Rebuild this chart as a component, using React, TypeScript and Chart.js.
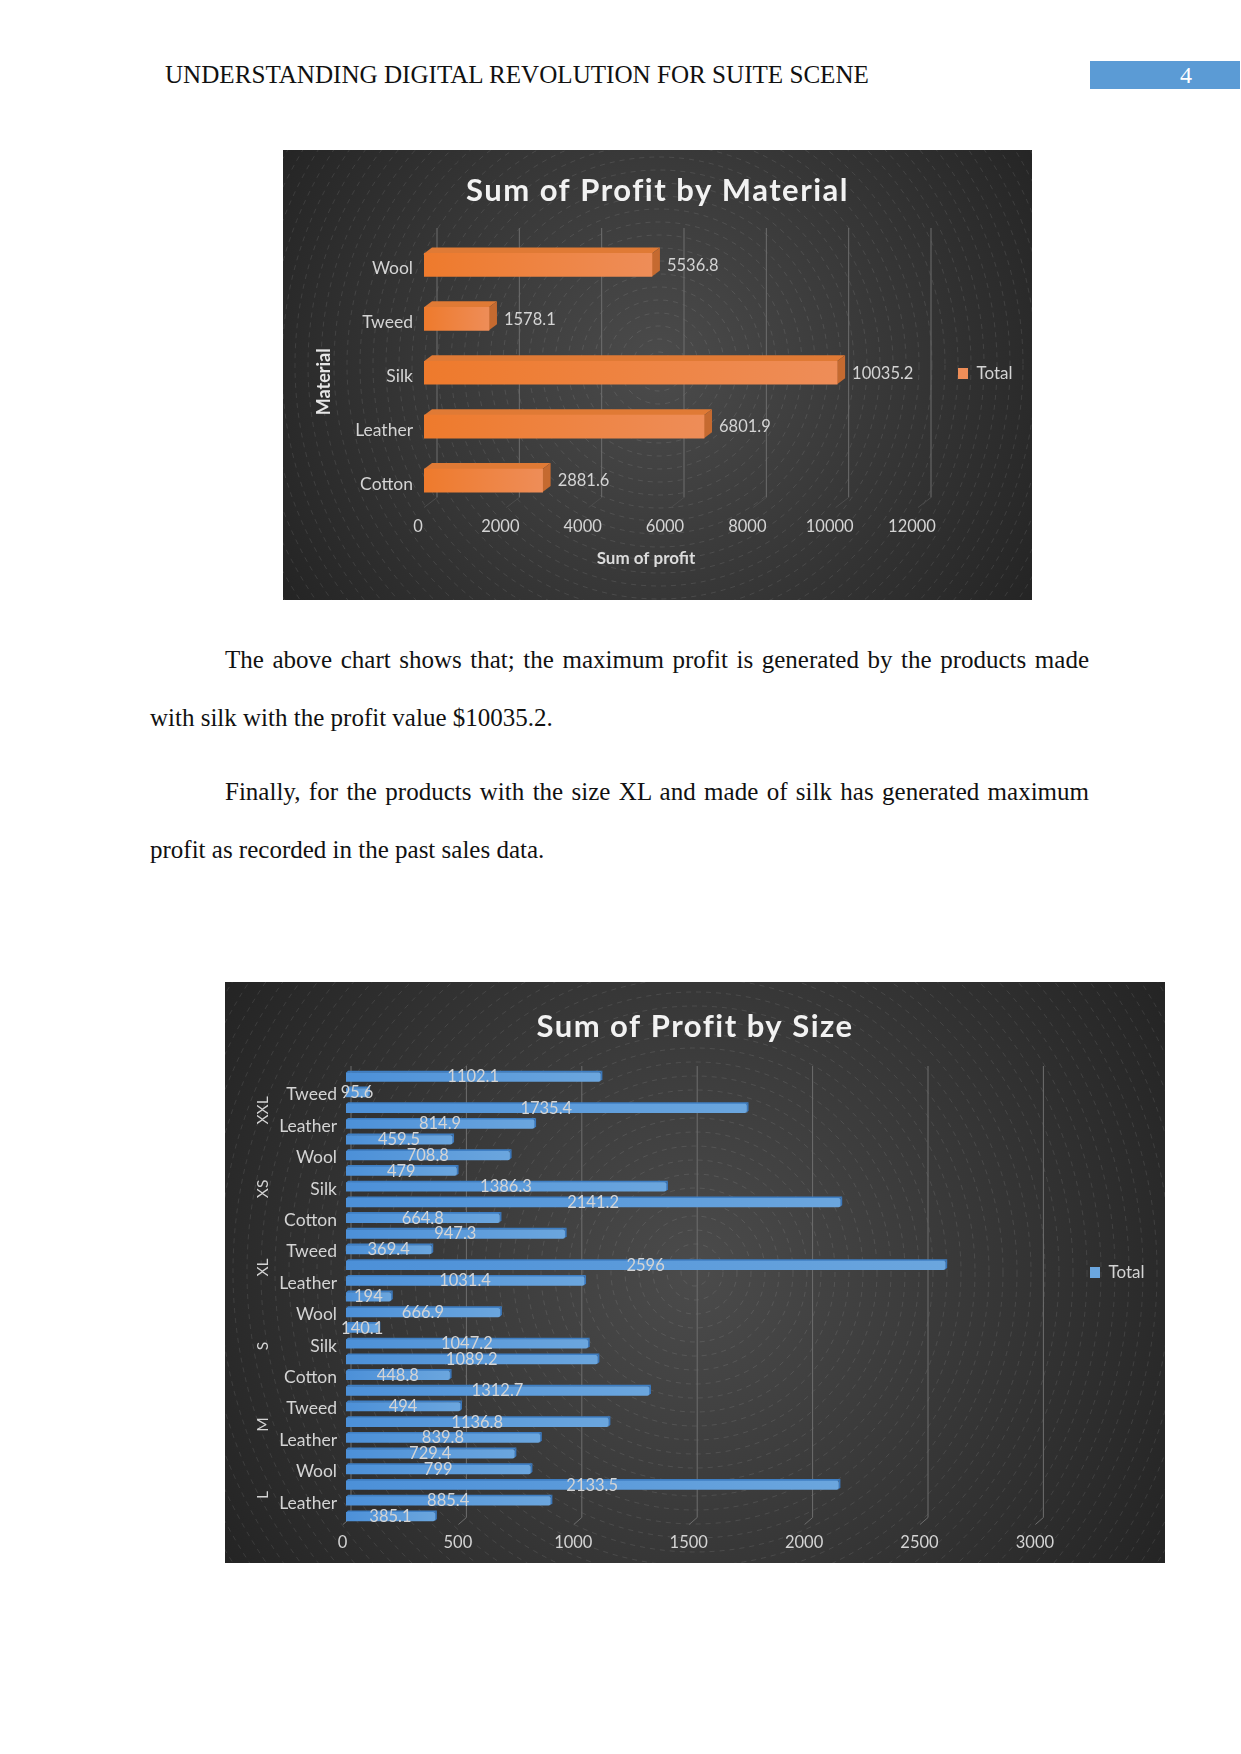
import React, { useEffect, useRef } from "react";
import { Chart, registerables } from "chart.js";

Chart.register(...registerables);

const FONT = "Lato, Carlito, sans-serif";
const TEXT = "#d4d4d4";

// Chart 1
const materialTitle = "Sum of Profit by Material";
const materialCategories = ["Wool", "Tweed", "Silk", "Leather", "Cotton"];
const materialValues = [5536.8, 1578.1, 10035.2, 6801.9, 2881.6];

// Chart 2 (top to bottom)
const sizeTitle = "Sum of Profit by Size";
const sizeCategories = [
  "Wool", "Tweed", "Silk", "Leather", "Cotton",
  "Wool", "Tweed", "Silk", "Leather", "Cotton",
  "Wool", "Tweed", "Silk", "Leather", "Cotton",
  "Wool", "Tweed", "Silk", "Leather", "Cotton",
  "Wool", "Tweed", "Silk", "Leather", "Cotton",
  "Wool", "Silk", "Leather", "Cotton",
];
const sizeValues = [
  1102.1, 95.6, 1735.4, 814.9, 459.5,
  708.8, 479, 1386.3, 2141.2, 664.8,
  947.3, 369.4, 2596, 1031.4, 194,
  666.9, 140.1, 1047.2, 1089.2, 448.8,
  1312.7, 494, 1136.8, 839.8, 729.4,
  799, 2133.5, 885.4, 385.1,
];
const sizeGroups = ["XXL", "XS", "XL", "S", "M", "L"];
const sizeGroupCounts = [5, 5, 5, 5, 5, 4];

type Cfg = {
  cx: number; cy: number; ringStep: number;
  depthX: number; depthY: number;
  gridDx: number; gridTop: number; gridBottomInset: number; floorDx: number; floorColor: string;
  top: string; side: string;
  legendX: number; legendY: number;
  labelMode: "end" | "mid";
  xTitleDx?: number; yTitleDy?: number;
  titleSpacing: string; titleDx: number;
};

function makePlugin(c: Cfg) {
  return {
    id: "scene",
    afterLayout(chart: any) {
      const lg = chart.legend;
      if (lg) {
        const w = lg.width, h = lg.height;
        lg.left = c.legendX - 10; lg.right = lg.left + w;
        lg.top = c.legendY - 19; lg.bottom = lg.top + h;
      }
      if (chart.$patched) return;
      chart.$patched = true;
      const tb = chart.titleBlock;
      const drawT = tb.draw.bind(tb);
      tb.draw = () => {
        chart.ctx.save();
        (chart.ctx as any).letterSpacing = c.titleSpacing;
        chart.ctx.translate(c.titleDx, 0);
        drawT();
        chart.ctx.restore();
      };
      const shift = (s: any, dx: number, dy: number) => {
        const d = s.drawTitle.bind(s);
        s.drawTitle = () => { chart.ctx.save(); chart.ctx.translate(dx, dy); d(); chart.ctx.restore(); };
      };
      if (c.xTitleDx) shift(chart.scales.x, c.xTitleDx, 0);
      if (c.yTitleDy) shift(chart.scales.y, 0, c.yTitleDy);
    },
    beforeDraw(chart: any) {
      const { ctx, width, height } = chart;
      const R = Math.hypot(Math.max(c.cx, width - c.cx), Math.max(c.cy, height - c.cy));
      ctx.save();
      const g = ctx.createRadialGradient(c.cx, c.cy, 0, c.cx, c.cy, R);
      g.addColorStop(0, "#4b4b4b");
      g.addColorStop(0.55, "#363636");
      g.addColorStop(1, "#242424");
      ctx.fillStyle = g;
      ctx.fillRect(0, 0, width, height);
      ctx.strokeStyle = "rgba(255,255,255,0.17)";
      ctx.lineWidth = 0.6;
      ctx.setLineDash([5, 5]);
      for (let r = c.ringStep; r < R; r += c.ringStep) {
        ctx.beginPath();
        ctx.arc(c.cx, c.cy, r, 0, Math.PI * 2);
        ctx.stroke();
      }
      ctx.restore();
    },
    beforeDatasetsDraw(chart: any) {
      const { ctx, scales: { x }, chartArea } = chart;
      ctx.save();
      ctx.lineWidth = 1;
      x.ticks.forEach((_: any, i: number) => {
        const px = x.getPixelForTick(i);
        const b = chartArea.bottom - c.gridBottomInset;
        ctx.strokeStyle = "#6e6e6e";
        ctx.beginPath();
        ctx.moveTo(px + c.gridDx, c.gridTop);
        ctx.lineTo(px + c.gridDx, b);
        ctx.stroke();
        ctx.strokeStyle = c.floorColor;
        ctx.beginPath();
        ctx.moveTo(px + c.gridDx, b);
        ctx.lineTo(px + c.floorDx, chartArea.bottom);
        ctx.stroke();
      });
      chart.getDatasetMeta(0).data.forEach((bar: any) => {
        const h = bar.height / 2;
        const t = bar.y - h, bt = bar.y + h;
        ctx.fillStyle = c.top;
        ctx.beginPath();
        ctx.moveTo(bar.base, t);
        ctx.lineTo(bar.base + c.depthX, t - c.depthY);
        ctx.lineTo(bar.x + c.depthX, t - c.depthY);
        ctx.lineTo(bar.x, t);
        ctx.closePath();
        ctx.fill();
        ctx.fillStyle = c.side;
        ctx.beginPath();
        ctx.moveTo(bar.x, t);
        ctx.lineTo(bar.x + c.depthX, t - c.depthY);
        ctx.lineTo(bar.x + c.depthX, bt - c.depthY);
        ctx.lineTo(bar.x, bt);
        ctx.closePath();
        ctx.fill();
      });
      ctx.restore();
    },
    afterDatasetsDraw(chart: any) {
      const { ctx } = chart;
      const ds = chart.data.datasets[0];
      ctx.save();
      ctx.font = `16.5px ${FONT}`;
      ctx.fillStyle = TEXT;
      ctx.textBaseline = "middle";
      chart.getDatasetMeta(0).data.forEach((bar: any, i: number) => {
        const txt = String(ds.data[i]);
        if (c.labelMode === "end") {
          ctx.textAlign = "left";
          ctx.fillText(txt, bar.x + 15, bar.y + 0.5);
        } else {
          ctx.textAlign = "center";
          ctx.fillText(txt, (bar.base + bar.x) / 2, bar.y);
        }
      });
      ctx.restore();
    },
  };
}

const groupPlugin = {
  id: "groups",
  afterDraw(chart: any) {
    const { ctx, scales: { y } } = chart;
    let start = 0;
    ctx.save();
    ctx.font = `15.5px ${FONT}`;
    ctx.fillStyle = TEXT;
    ctx.textAlign = "center";
    ctx.textBaseline = "middle";
    sizeGroups.forEach((g, i) => {
      const n = sizeGroupCounts[i];
      const py = (y.getPixelForValue(start) + y.getPixelForValue(start + n - 1)) / 2 + 2;
      ctx.save();
      ctx.translate(38, py);
      ctx.rotate(-Math.PI / 2);
      ctx.fillText(g, 0, 0);
      ctx.restore();
      start += n;
    });
    ctx.restore();
  },
};

function barFill(c0: string, c1: string) {
  return (context: any) => {
    if (context.raw === undefined || !context.chart.chartArea) return c0;
    const x = context.chart.scales.x;
    const g = context.chart.ctx.createLinearGradient(x.getPixelForValue(0), 0, x.getPixelForValue(context.raw), 0);
    g.addColorStop(0, c0);
    g.addColorStop(1, c1);
    return g;
  };
}

function useChart(ref: React.RefObject<HTMLCanvasElement | null>, make: (cv: HTMLCanvasElement) => Chart) {
  useEffect(() => {
    const ch = make(ref.current as HTMLCanvasElement);
    return () => ch.destroy();
  }, []);
}

const xTick = { color: TEXT, font: { family: FONT, size: 16.5 }, callback: (v: any) => String(v) };
const catTick = { color: TEXT, font: { family: FONT, size: 17.5 } };
const legendLabels = { color: TEXT, boxWidth: 10, boxHeight: 11, font: { family: FONT, size: 17 } };

function Chart1() {
  const ref = useRef<HTMLCanvasElement>(null);
  useChart(ref, (cv) =>
    new Chart(cv, {
      type: "bar",
      data: {
        labels: materialCategories,
        datasets: [{
          label: "Total",
          data: materialValues,
          barThickness: 23,
          backgroundColor: barFill("#EE7A2C", "#EE8D58") as any,
        }],
      },
      options: {
        indexAxis: "y",
        responsive: false,
        animation: false,
        layout: { padding: { right: 114 } },
        scales: {
          x: {
            min: 0, max: 12000,
            afterFit: (s: any) => { s.height = 92.5; },
            grid: { display: false }, border: { display: false },
            ticks: { ...xTick, stepSize: 2000, padding: 1, labelOffset: -6, maxRotation: 0 },
            title: { display: true, text: "Sum of profit", color: "#dcdcdc", padding: { top: 0, bottom: 31 }, font: { family: FONT, size: 17, weight: "bold" } },
          },
          y: {
            afterFit: (s: any) => { s.width = 141; },
            grid: { display: false }, border: { display: false },
            ticks: { ...catTick, padding: 3, labelOffset: 3.5 },
            title: { display: true, text: "Material", color: "#e6e6e6", padding: { top: 30, bottom: 0 }, font: { family: FONT, size: 18, weight: "bold" } },
          },
        },
        plugins: {
          tooltip: { enabled: false },
          title: { display: true, text: materialTitle, color: "#f2f2f2", padding: { top: 22.5, bottom: 28.3 }, font: { family: FONT, size: 31, weight: "bold" } },
          legend: { position: "chartArea" as any, align: "start", labels: legendLabels },
        },
      },
      plugins: [makePlugin({
        cx: 376, cy: 215, ringStep: 13, depthX: 8, depthY: 6,
        gridDx: 13, gridTop: 78, gridBottomInset: 10, floorDx: 0, floorColor: "#4c4c4c",
        top: "#E07A35", side: "#C56A30",
        legendX: 675, legendY: 224, labelMode: "end",
        xTitleDx: -25, yTitleDy: 9, titleSpacing: "1.5px", titleDx: 57,
      })],
    } as any)
  );
  return <canvas ref={ref} width={749} height={450} style={{ display: "block" }} />;
}

function Chart2() {
  const ref = useRef<HTMLCanvasElement>(null);
  useChart(ref, (cv) =>
    new Chart(cv, {
      type: "bar",
      data: {
        labels: sizeCategories,
        datasets: [{
          label: "Total",
          data: sizeValues,
          barThickness: 8.5,
          borderRadius: 2,
          backgroundColor: barFill("#4C90D8", "#6BA6DE") as any,
        }],
      },
      options: {
        indexAxis: "y",
        responsive: false,
        animation: false,
        layout: { padding: { right: 126.6 } },
        scales: {
          x: {
            min: 0, max: 3000,
            afterFit: (s: any) => { s.height = 38.5; },
            grid: { display: false }, border: { display: false },
            ticks: { ...xTick, stepSize: 500, padding: 0, labelOffset: -3.5, maxRotation: 0 },
          },
          y: {
            afterFit: (s: any) => { s.width = 121; },
            grid: { display: false }, border: { display: false },
            ticks: {
              ...catTick, padding: 1, labelOffset: 2, autoSkip: false,
              callback: (_: any, i: number) => (i % 2 === 1 ? sizeCategories[i] : ""),
            },
          },
        },
        plugins: {
          tooltip: { enabled: false },
          title: { display: true, text: sizeTitle, color: "#f2f2f2", padding: { top: 26.5, bottom: 23.5 }, font: { family: FONT, size: 31, weight: "bold" } },
          legend: { position: "chartArea" as any, align: "start", labels: legendLabels },
        },
      },
      plugins: [makePlugin({
        cx: 470, cy: 290, ringStep: 14, depthX: 2, depthY: 2,
        gridDx: 5, gridTop: 84, gridBottomInset: 7, floorDx: -3, floorColor: "#6e6e6e",
        top: "#3F7FC4", side: "#3B78BC",
        legendX: 865, legendY: 291, labelMode: "mid",
        titleSpacing: "1.5px", titleDx: 63.3,
      }), groupPlugin],
    } as any)
  );
  return <canvas ref={ref} width={940} height={581} style={{ display: "block" }} />;
}

const serif = "'Liberation Serif', 'Times New Roman', serif";

function Line({ top, left, width, text, justify }: { top: number; left: number; width?: number; text: string; justify?: boolean }) {
  return (
    <div style={{
      position: "absolute", top, left, width, height: 30, lineHeight: "30px",
      fontFamily: serif, fontSize: 25, color: "#111", whiteSpace: justify ? "normal" : "nowrap",
      textAlign: justify ? "justify" : "left", textAlignLast: justify ? "justify" : "left",
    }}>{text}</div>
  );
}

export default function App() {
  return (
    <div style={{ position: "absolute", left: 0, top: 0, width: 1241, height: 1754, overflow: "hidden", background: "#fff" }}>
      <div style={{ position: "absolute", left: 165, top: 60, lineHeight: "30px", fontFamily: serif, fontSize: 25.1, color: "#111", whiteSpace: "nowrap" }}>
        UNDERSTANDING DIGITAL REVOLUTION FOR SUITE SCENE
      </div>
      <div style={{ position: "absolute", left: 1090, top: 61, width: 150, height: 28, background: "#5B9BD5", color: "#fff", fontFamily: serif, fontSize: 24, lineHeight: "28px", textAlign: "center", textIndent: 42 }}>4</div>
      <div style={{ position: "absolute", left: 283, top: 150 }}><Chart1 /></div>
      <Line top={645} left={225} width={864} justify text="The above chart shows that; the maximum profit is generated by the products made" />
      <Line top={703} left={150} text="with silk with the profit value $10035.2." />
      <Line top={777} left={225} width={864} justify text="Finally, for the products with the size XL and made of silk has generated maximum" />
      <Line top={835} left={150} text="profit as recorded in the past sales data." />
      <div style={{ position: "absolute", left: 225, top: 982 }}><Chart2 /></div>
    </div>
  );
}
